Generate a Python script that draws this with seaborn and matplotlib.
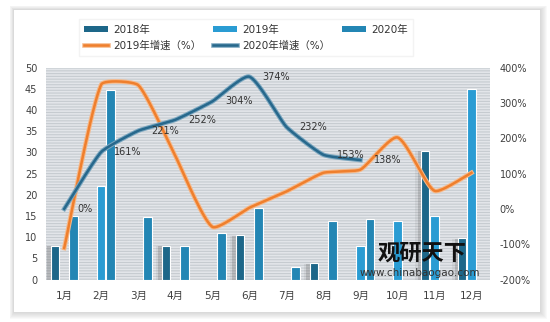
import numpy as np
import pandas as pd
import matplotlib
matplotlib.use("Agg")
import matplotlib.pyplot as plt
import matplotlib.patheffects as pe
from matplotlib.patches import Rectangle
from matplotlib.lines import Line2D
import seaborn as sns

# ---------------- data ----------------
months = ["1月", "2月", "3月", "4月", "5月", "6月", "7月", "8月", "9月", "10月", "11月", "12月"]
series_names = ["2018年", "2019年", "2020年"]
v2018 = [8.0, np.nan, np.nan, 8.0, np.nan, 10.5, np.nan, 3.8, np.nan, np.nan, 30.4, 9.8]
v2019 = [np.nan, 22.0, np.nan, np.nan, np.nan, np.nan, np.nan, np.nan, 8.0, 13.9, 15.0, 45.0]
v2020 = [15.0, 44.8, 14.8, 8.0, 10.9, 16.9, 3.0, 13.8, 14.3, np.nan, np.nan, np.nan]
growth2019 = [-111, 352, 350, 150, -51, 3, 49, 102, 111, 202, 51, 102]
growth2020 = [0, 161, 221, 252, 304, 374, 232, 153, 138]
growth_names = ["2019年增速（%）", "2020年增速（%）"]
left_ticks = [0, 5, 10, 15, 20, 25, 30, 35, 40, 45, 50]
right_ticks = [-200, -100, 0, 100, 200, 300, 400]

# ---------------- style ----------------
W, H, DPI = 550, 322, 100
plt.rcParams["font.family"] = ["DejaVu Sans", "Noto Sans CJK SC"]
plt.rcParams["hatch.linewidth"] = 0.8
plt.rcParams["hatch.color"] = "#c6cbd0"

c2018, c2019, c2020 = "#1d6789", "#2a9cd3", "#2386b4"
c_or, c_bl = "#ef7f2d", "#27688c"
txt = "#404040"

fig = plt.figure(figsize=(W / DPI, H / DPI), dpi=DPI, facecolor="white")

# card with soft shadow
def px_rect(x0, y0, x1, y1, **kw):
    return Rectangle((x0 / W, 1 - y1 / H), (x1 - x0) / W, (y1 - y0) / H,
                     transform=fig.transFigure, **kw)

for k in range(7, 0, -1):
    fig.patches.append(px_rect(14 - k * 0.6, 10 - k * 0.6, 540 + k, 312 + k,
                               facecolor="#9a9a9a", alpha=0.06, lw=0, zorder=-10))
fig.patches.append(px_rect(14, 10, 540, 312, facecolor="white", lw=0, zorder=-9))

# axes placement
x0, x1, yb, yt = 45.7, 490.0, 279.5, 67.5
ax = fig.add_axes([x0 / W, 1 - yb / H, (x1 - x0) / W, (yb - yt) / H])
ax.patch.set_alpha(0)
ax.add_patch(Rectangle((0, 0), 1, 1, transform=ax.transAxes, facecolor="#e2e5e9",
                       edgecolor="#c6cbd0", hatch="------", lw=0, zorder=0))

# ---------------- bars ----------------
df = pd.DataFrame({
    "month": months * 3,
    "series": [s for s in series_names for _ in months],
    "value": v2018 + v2019 + v2020,
}).dropna()

sns.barplot(data=df, x="month", y="value", hue="series", order=months,
            hue_order=series_names, palette=[c2018, c2019, c2020], saturation=1,
            width=0.75, gap=0.1, edgecolor="white", linewidth=0.8, legend=False,
            ax=ax, zorder=3)
for bar in ax.containers[0]:
    bar.set_path_effects([
        pe.SimplePatchShadow(offset=(-4.5, -0.5), shadow_rgbFace="#777777", alpha=0.12),
        pe.SimplePatchShadow(offset=(-2.5, -0.5), shadow_rgbFace="#555555", alpha=0.22),
        pe.Normal()])

ax.set_xlim(-0.5, 11.5)
ax.set_ylim(0, 50)
ax.set_yticks(left_ticks)
ax.set_xlabel("")
ax.set_ylabel("")
for s in ax.spines.values():
    s.set_visible(False)
ax.tick_params(axis="both", length=0, colors=txt)
ax.tick_params(axis="y", labelsize=7, pad=6)
ax.tick_params(axis="x", labelsize=7.5, pad=8)

# ---------------- lines ----------------
ax2 = ax.twinx()
ax2.set_ylim(-200, 400)
ax2.set_yticks(right_ticks)
ax2.set_yticklabels([f"{t}%" for t in right_ticks])
for s in ax2.spines.values():
    s.set_visible(False)
ax2.tick_params(axis="y", length=0, labelsize=7, colors=txt, pad=7)
ax2.set_xlim(-0.5, 11.5)

sx = (x1 - x0) / 12.0          # px per category
sy = (yb - yt) / 600.0         # px per percent


def smooth(xs, ys, s=0.45, n=40):
    P = np.column_stack([np.asarray(xs, float) * sx, np.asarray(ys, float) * sy])
    m = len(P)
    pts = []
    for i in range(m - 1):
        p0 = P[i - 1] if i > 0 else P[i]
        p1, p2 = P[i], P[i + 1]
        p3 = P[i + 2] if i + 2 < m else P[i + 1]
        d = np.linalg.norm(p2 - p1)
        t1 = (p2 - p0) / np.linalg.norm(p2 - p0)
        t2 = (p3 - p1) / np.linalg.norm(p3 - p1)
        c1 = p1 + t1 * d / 3 * s
        c2 = p2 - t2 * d / 3 * s
        t = np.linspace(0, 1, n)[:, None]
        seg = (1 - t) ** 3 * p1 + 3 * (1 - t) ** 2 * t * c1 + 3 * (1 - t) * t ** 2 * c2 + t ** 3 * p2
        pts.append(seg if i == 0 else seg[1:])
    pts = np.vstack(pts)
    return pts[:, 0] / sx, pts[:, 1] / sy


def glow(light):
    return [pe.Stroke(linewidth=3.3, foreground=light), pe.Normal()]


xo, yo = smooth(range(len(growth2019)), growth2019)
sns.lineplot(x=xo, y=yo, ax=ax2, color=c_or, linewidth=1.8, sort=False,
             estimator=None, zorder=5).lines[-1].set_path_effects(glow("#f6b98a"))
xbl, ybl = smooth(range(len(growth2020)), growth2020)
sns.lineplot(x=xbl, y=ybl, ax=ax2, color=c_bl, linewidth=1.8, sort=False,
             estimator=None, zorder=6).lines[-1].set_path_effects(glow("#7aa6bf"))

for i, v in enumerate(growth2020):
    ax2.annotate(f"{v}%", (i, v), xytext=(9.5, 0), textcoords="offset points",
                 ha="left", va="center", fontsize=7, color="#333333", zorder=7)

# ---------------- watermark ----------------
fig.text(378 / W, 1 - 253 / H, "观研天下", fontsize=16, fontweight="bold",
         family=["Noto Sans CJK SC"], color="#111111", va="center", ha="left", zorder=20)
fig.text(420 / W, 1 - 273 / H, "www.chinabaogao.com", fontsize=7.5, color="#333333",
         va="center", ha="center", zorder=20)

# ---------------- legend ----------------
handles = [
    Rectangle((0, 0), 1, 1, facecolor=c2018, edgecolor="none"),
    Line2D([], [], color=c_or, lw=1.8, path_effects=glow("#f6b98a")),
    Rectangle((0, 0), 1, 1, facecolor=c2019, edgecolor="none"),
    Line2D([], [], color=c_bl, lw=1.8, path_effects=glow("#7aa6bf")),
    Rectangle((0, 0), 1, 1, facecolor=c2020, edgecolor="none"),
]
labels = [series_names[0], growth_names[0], series_names[1], growth_names[1], series_names[2]]
leg = fig.legend(handles, labels, ncol=3, loc="upper left",
                 bbox_to_anchor=(74 / W, 1 - 14 / H), fontsize=7.5,
                 frameon=True, fancybox=False, facecolor="white", edgecolor="#f0f0f0",
                 handlelength=2.3, handleheight=0.6, handletextpad=0.5,
                 columnspacing=1.1, labelspacing=0.55, borderpad=0.5)
for t in leg.get_texts():
    t.set_color("#333333")

fig.savefig("out.png", dpi=DPI, facecolor="white")
